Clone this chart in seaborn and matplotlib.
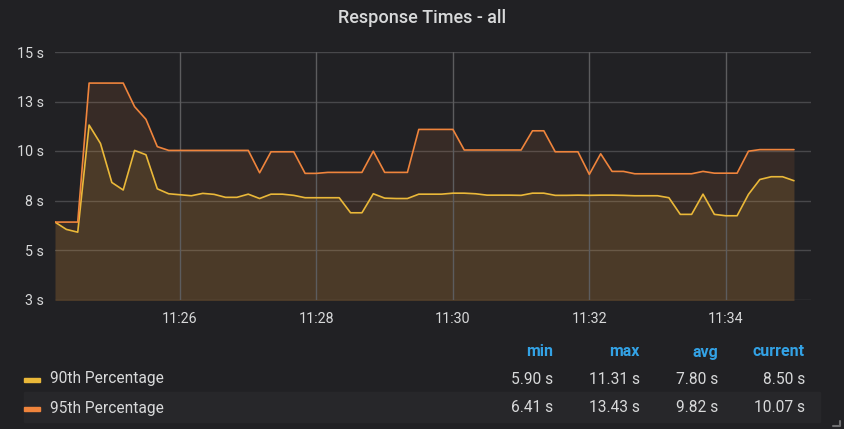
"""
Grafana-style response time panel: 90th / 95th percentile over time.
"""
import matplotlib
matplotlib.use('Agg')
import matplotlib.pyplot as plt
import matplotlib.dates as mdates
from matplotlib.patches import Rectangle
from matplotlib.lines import Line2D
import seaborn as sns
import pandas as pd

# 10 second samples, 11:24:10 .. 11:35:00
times = pd.date_range('2020-01-01 11:24:10', periods=66, freq='10s')

p90 = [6.41, 6.04, 5.90, 11.31, 10.38, 8.41, 8.03, 10.03, 9.81, 8.09,
       7.84, 7.79, 7.74, 7.86, 7.81, 7.66, 7.66, 7.82, 7.60, 7.82,
       7.82, 7.76, 7.64, 7.64, 7.64, 7.64, 6.88, 6.88, 7.84, 7.62,
       7.60, 7.60, 7.82, 7.82, 7.82, 7.87, 7.87, 7.84, 7.77, 7.77,
       7.77, 7.76, 7.87, 7.87, 7.76, 7.76, 7.77, 7.76, 7.77, 7.77,
       7.76, 7.74, 7.74, 7.74, 7.64, 6.80, 6.80, 7.82, 6.80, 6.73,
       6.73, 7.81, 8.56, 8.70, 8.70, 8.50]

p95 = [6.41, 6.41, 6.41, 13.43, 13.43, 13.43, 13.43, 12.24, 11.60, 10.22,
       10.03, 10.03, 10.03, 10.03, 10.03, 10.03, 10.03, 10.03, 8.90, 9.96,
       9.96, 9.96, 8.87, 8.87, 8.92, 8.92, 8.92, 8.92, 9.99, 8.92,
       8.92, 8.92, 11.09, 11.09, 11.09, 11.09, 10.05, 10.05, 10.05, 10.05,
       10.05, 10.05, 11.02, 11.02, 9.96, 9.96, 9.96, 8.82, 9.86, 8.97,
       8.97, 8.85, 8.85, 8.85, 8.85, 8.85, 8.85, 8.97, 8.88, 8.88,
       8.88, 9.99, 10.07, 10.07, 10.07, 10.07]

series_names = ['90th Percentage', '95th Percentage']
series_colors = ['#EAB839', '#EF843C']
stats_header = ['min', 'max', 'avg', 'current']
stats_values = [['5.90 s', '11.31 s', '7.80 s', '8.50 s'],
                ['6.41 s', '13.43 s', '9.82 s', '10.07 s']]

y_ticks = [2.5, 5, 7.5, 10, 12.5, 15]
y_tick_labels = ['3 s', '5 s', '8 s', '10 s', '13 s', '15 s']

bg = '#212124'
text_col = '#d8d9da'

df = pd.DataFrame({'time': times, '90th Percentage': p90, '95th Percentage': p95})
long_df = df.melt(id_vars='time', var_name='series', value_name='value')

sns.set_theme(style='dark')
plt.rcParams['font.family'] = ['Roboto', 'DejaVu Sans']

W, H = 845, 429
fig = plt.figure(figsize=(W / 100, H / 100), dpi=100, facecolor=bg)
ax = fig.add_axes([55 / W, 1 - 299.5 / H, (811 - 55) / W, (299.5 - 52) / H])
ax.set_facecolor(bg)

# area fills first, then the lines on top
for name, col in zip(series_names, series_colors):
    ax.fill_between(df['time'], 0, df[name], color=col, alpha=0.11,
                    linewidth=0, zorder=1)

sns.lineplot(data=long_df, x='time', y='value', hue='series',
             palette=dict(zip(series_names, series_colors)),
             linewidth=1.2, ax=ax, legend=False, zorder=3)

ax.set_xlim(pd.Timestamp('2020-01-01 11:24:10'), pd.Timestamp('2020-01-01 11:35:15'))
ax.set_ylim(2.5, 15)
ax.set_yticks(y_ticks)
ax.set_yticklabels(y_tick_labels)
ax.xaxis.set_major_locator(mdates.MinuteLocator(byminute=[26, 28, 30, 32, 34]))
ax.xaxis.set_major_formatter(mdates.DateFormatter('%H:%M'))
ax.set_xlabel('')
ax.set_ylabel('')

ax.grid(False)
for y in y_ticks:
    ax.axhline(y, color='#48484b', linewidth=1, zorder=0.5)
for t in ax.get_xticks():
    ax.axvline(t, color='#5c5c5e', linewidth=1, zorder=2)

for s in ax.spines.values():
    s.set_visible(False)
ax.tick_params(axis='both', length=0, colors=text_col, labelsize=10.3)
ax.tick_params(axis='x', pad=9)
ax.tick_params(axis='y', pad=8)

fig.text(422 / W, 1 - 18 / H, 'Response Times - all', ha='center', va='center',
         color=text_col, fontsize=13, fontweight='medium')

# legend table
col_right = [553, 640, 718, 805]
for x, h in zip(col_right, stats_header):
    fig.text(x / W, 1 - 352 / H, h, ha='right', va='center',
             color='#33a2e5', fontsize=11.5, fontweight='bold')

fig.patches.append(Rectangle((24 / W, 1 - 422 / H), (820 - 24) / W, 30 / H,
                             transform=fig.transFigure, color='#27272a', zorder=0))

row_y = [379, 408]
for ry, name, col, vals in zip(row_y, series_names, series_colors, stats_values):
    fig.patches.append(Rectangle((24 / W, 1 - (ry + 3) / H), 16 / W, 4 / H,
                                 transform=fig.transFigure, color=col, zorder=2))
    fig.text(50 / W, 1 - ry / H, name, ha='left', va='center',
             color=text_col, fontsize=11.2)
    for x, v in zip(col_right, vals):
        fig.text(x / W, 1 - ry / H, v, ha='right', va='center',
                 color=text_col, fontsize=11.2)

# resize handle in the corner
fig.lines.append(Line2D([833 / W, 840 / W, 840 / W], [1 - 426 / H, 1 - 426 / H, 1 - 421 / H],
                        transform=fig.transFigure, color='#6e6e70', linewidth=1.5))

fig.savefig('out.png', dpi=100, facecolor=bg)
